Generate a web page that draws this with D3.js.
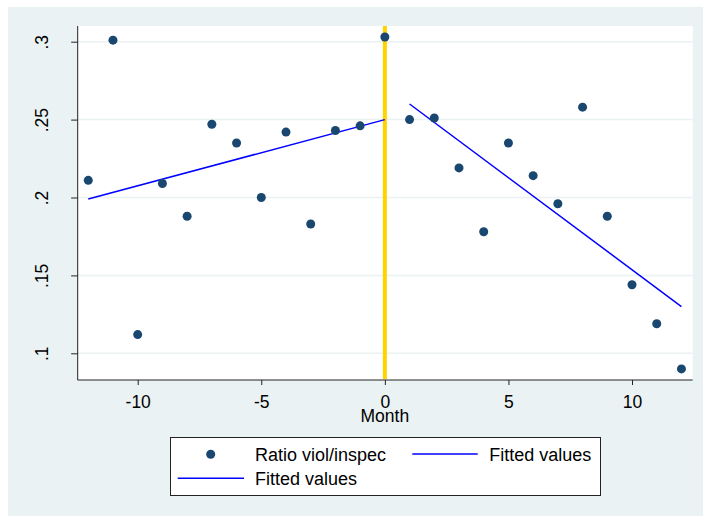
<!DOCTYPE html>
<html><head><meta charset="utf-8">
<script src="https://cdn.jsdelivr.net/npm/d3@7/dist/d3.min.js"></script>
<style>body{margin:0;background:#fff}svg{display:block}text{font-family:"Liberation Sans",Arial,sans-serif;fill:#000}</style>
</head><body><svg id="c" width="703" height="516"></svg>
<script>
const months = [-12,-11,-10,-9,-8,-7,-6,-5,-4,-3,-2,-1,0,1,2,3,4,5,6,7,8,9,10,11,12];
const ratio = [0.211,0.301,0.112,0.209,0.188,0.247,0.235,0.200,0.242,0.183,0.243,0.246,0.303,0.250,0.251,0.219,0.178,0.235,0.214,0.196,0.258,0.188,0.144,0.119,0.090];
const fitPreX = [-12, 0];
const fitPreY = [0.199, 0.250];
const fitPostX = [1, 12];
const fitPostY = [0.260, 0.130];
const xTicks = [-10,-5,0,5,10];
const yTicks = [0.1,0.15,0.2,0.25,0.3];
const yTickLabels = [".1",".15",".2",".25",".3"];
const legendLabels = ["Ratio viol/inspec","Fitted values","Fitted values"];

const svg = d3.select("#c");
const L=77.7, R=692.7, T=26, B=380;
svg.append("rect").attr("x",8).attr("y",7).attr("width",695).attr("height",509).attr("fill","#eaf2f3");
svg.append("rect").attr("x",L).attr("y",T).attr("width",R-L).attr("height",B-T).attr("fill","#fff");

const x = d3.scaleLinear().domain([-10,10]).range([137.7,632]);
const y = d3.scaleLinear().domain([0.1,0.3]).range([353.3,41.7]);

// gridlines
svg.append("g").selectAll("line").data(yTicks).join("line")
  .attr("x1",L).attr("x2",R).attr("y1",d=>y(d)).attr("y2",d=>y(d))
  .attr("stroke","#eaf2f3").attr("stroke-width",1.5);

// axes
const yAxis = d3.axisLeft(y).tickValues(yTicks).tickSize(6.5).tickFormat((d,i)=>yTickLabels[i]);
const gy = svg.append("g").attr("transform",`translate(${L},0)`).call(yAxis);
gy.select(".domain").remove();
gy.append("line").attr("x1",0).attr("x2",0).attr("y1",T).attr("y2",B).attr("stroke","#222");
gy.selectAll(".tick line").attr("stroke","#222");
gy.selectAll(".tick text").attr("font-size",17.5).attr("fill","#000")
  .attr("x",null).attr("dy",null).attr("text-anchor","middle")
  .attr("transform","translate(-29.5,0) rotate(-90)");

const xAxis = d3.axisBottom(x).tickValues(xTicks).tickSize(5).tickFormat(d=>String(d));
const gx = svg.append("g").attr("transform",`translate(0,${B})`).call(xAxis);
gx.select(".domain").remove();
gx.append("line").attr("x1",L).attr("x2",R).attr("y1",0).attr("y2",0).attr("stroke","#222");
gx.selectAll(".tick line").attr("stroke","#222");
gx.selectAll(".tick text").attr("font-size",17.5).attr("fill","#000").attr("dy",null).attr("y",27.7);
svg.append("text").attr("x",x(0)).attr("y",422).attr("text-anchor","middle").attr("font-size",17.5).text("Month");

// vertical line at 0
svg.append("line").attr("x1",x(0)).attr("x2",x(0)).attr("y1",T).attr("y2",B-1)
  .attr("stroke","#ffd200").attr("stroke-width",4);

// fitted lines
const line = d3.line().x(d=>x(d[0])).y(d=>y(d[1]));
svg.append("path").attr("d",line(fitPreX.map((v,i)=>[v,fitPreY[i]]))).attr("stroke","#0000ff").attr("stroke-width",1.5).attr("fill","none");
svg.append("path").attr("d",line(fitPostX.map((v,i)=>[v,fitPostY[i]]))).attr("stroke","#0000ff").attr("stroke-width",1.5).attr("fill","none");

// points
svg.append("g").selectAll("circle").data(months).join("circle")
  .attr("cx",d=>x(d)).attr("cy",(d,i)=>y(ratio[i])).attr("r",4.5).attr("fill","#1a476f");

// legend
const lg = svg.append("g");
lg.append("rect").attr("x",170.5).attr("y",437.5).attr("width",430).attr("height",58).attr("fill","#fff").attr("stroke","#222").attr("stroke-width",1);
lg.append("circle").attr("cx",210.7).attr("cy",454.3).attr("r",4.5).attr("fill","#1a476f");
lg.append("text").attr("x",255).attr("y",461).attr("font-size",18).text(legendLabels[0]);
lg.append("line").attr("x1",412.3).attr("x2",477.7).attr("y1",454).attr("y2",454).attr("stroke","#0000ff").attr("stroke-width",1.5);
lg.append("text").attr("x",489.3).attr("y",461).attr("font-size",18).text(legendLabels[1]);
lg.append("line").attr("x1",177.7).attr("x2",244).attr("y1",478.3).attr("y2",478.3).attr("stroke","#0000ff").attr("stroke-width",1.5);
lg.append("text").attr("x",255).attr("y",485).attr("font-size",18).text(legendLabels[2]);
</script></body></html>
